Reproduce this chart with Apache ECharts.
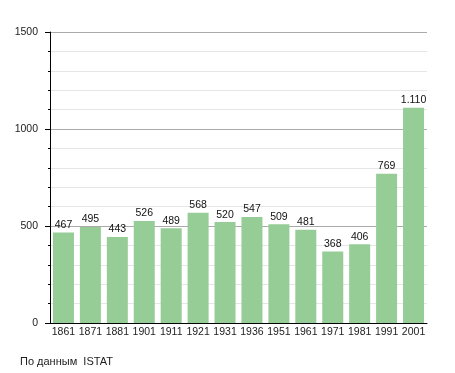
<!DOCTYPE html>
<html><head><meta charset="utf-8">
<script src="https://cdn.jsdelivr.net/npm/echarts@6/dist/echarts.min.js"></script>
<style>html,body{margin:0;padding:0;background:#fff}#c{width:455px;height:373px}</style>
</head><body><div id="c"></div>
<script>
const categories = ['1861','1871','1881','1901','1911','1921','1931','1936','1951','1961','1971','1981','1991','2001'];
const population = [467,495,443,526,489,568,520,547,509,481,368,406,769,1110];
const yTicks = [0,500,1000,1500];
const sourceNote = 'По данным  ISTAT';

function fmt(v){ return String(v).replace(/\B(?=(\d{3})+(?!\d))/g,'.'); }

const chart = echarts.init(document.getElementById('c'), null, {renderer:'canvas'});
chart.setOption({
  animation:false,
  textStyle:{fontFamily:'Liberation Sans, Arial, sans-serif'},
  grid:{left:50,right:28,top:32,bottom:50,containLabel:false},
  graphic:[{type:'text',left:20,top:356,style:{text:sourceNote,fontSize:11,fill:'#222',fontFamily:'Liberation Sans, Arial, sans-serif'}}],
  xAxis:{type:'category',data:categories,
    axisLine:{show:true,lineStyle:{color:'#000',width:1}},
    axisTick:{show:false},
    axisLabel:{color:'#222',fontSize:10.5,margin:4,interval:0}},
  yAxis:{type:'value',min:yTicks[0],max:yTicks[yTicks.length-1],interval:500,
    axisLine:{show:true,lineStyle:{color:'#000',width:1}},
    axisTick:{show:true,length:5,lineStyle:{color:'#000'}},
    minorTick:{show:true,splitNumber:5,length:2,lineStyle:{color:'#000'}},
    splitLine:{show:true,lineStyle:{color:'#aaa',width:1}},
    minorSplitLine:{show:true,lineStyle:{color:'#e6e6e6',width:1}},
    axisLabel:{color:'#222',fontSize:10.5,margin:12,formatter:v=>String(v)}},
  series:[{type:'bar',data:population,barWidth:21,
    itemStyle:{color:'#96cc96'},
    label:{show:true,position:'top',distance:2,color:'#111',fontSize:10.5,
      formatter:p=>fmt(p.value)}}]
});
</script></body></html>
